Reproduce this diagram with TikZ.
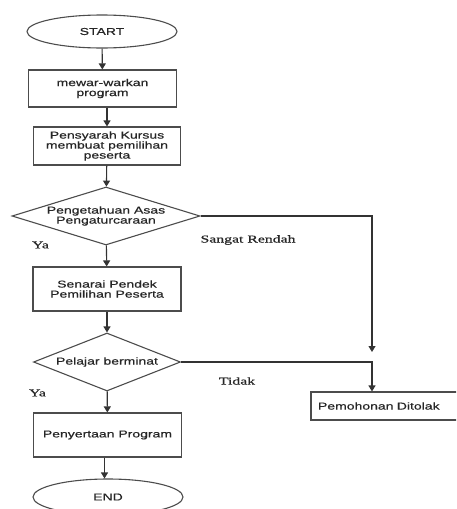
\documentclass[tikz,border=0pt]{standalone}
\usepackage{fontspec}
\setmainfont[FakeStretch=1.4,FakeBold=0.6]{Liberation Sans}
\newfontfamily\labelfont[FakeStretch=1.5,FakeBold=0.8]{Liberation Serif}
\usetikzlibrary{shapes.geometric,arrows.meta,positioning}

\begin{document}
\begin{tikzpicture}[x=1pt,y=-1pt,
    every node/.style={font=\fontsize{10}{10}\selectfont, text=black!85},
    terminal/.style={ellipse, draw=black!70, line width=1.1pt, minimum width=150pt, minimum height=33pt, inner sep=0pt},
    process/.style={rectangle, draw=black!70, line width=1.1pt, minimum width=148pt, inner sep=2pt, align=center},
    decision/.style={diamond, draw=black!70, line width=1.1pt, inner sep=0pt, align=center},
    flow/.style={-{Triangle[width=7pt,length=6pt]}, draw=black!80, line width=1.1pt},
    answer/.style={font=\labelfont\fontsize{10.5}{12}\selectfont}]

    \useasboundingbox (0,0) rectangle (456,509);
    \clip (0,0) rectangle (456,509);

    \node[terminal] (start) at (102,31.5) {START};
    \node[process, minimum height=37pt] (advert) at (102.5,88.5) {mewar-warkan\\program};
    \node[process, minimum width=147pt, minimum height=38pt] (select) at (107,146) {Pensyarah Kursus\\membuat pemilihan\\peserta};
    \node[decision, shape aspect=3.24, inner xsep=-2pt, minimum width=188pt, minimum height=58pt] (skill) at (106,216) {Pengetahuan Asas\\Pengaturcaraan};
    \node[process, minimum height=44pt] (shortlist) at (107,289) {Senarai Pendek\\Pemilihan Peserta};
    \node[decision, shape aspect=2.5, minimum width=147pt, minimum height=58pt] (interest) at (107,362) {Pelajar berminat};
    \node[process, minimum height=44pt] (join) at (107.5,435) {Penyertaan Program};
    \node[terminal, minimum height=36pt] (end) at (108,497) {END};
    \node[process, text width=134pt, inner xsep=6pt, minimum height=28pt, align=left] (reject) at (385,406) {Pemohonan Ditolak};
    \coordinate (low) at (372,352);

    \draw[flow] (start) -- (advert);
    \draw[flow] (advert.south -| select.north) -- (select.north);
    \draw[flow] (select) -- (skill);
    \draw[flow] (skill) -- (shortlist);
    \draw[flow] (shortlist) -- (interest);
    \draw[flow] (interest) -- (join);
    \draw[flow] ([xshift=-3pt]join.south) -- ([xshift=-3pt]join.south |- end.north);
    \draw[flow] (skill.east) -| (low);
    \draw[flow] (interest.east) -| (reject.north -| low);

    \node[answer] (yes1) at (40.5,245) {Ya};
    \node[answer] (lowtext) at (248,240) {Sangat Rendah};
    \node[answer] (no) at (237,381) {Tidak};
    \node[answer] (yes2) at (37.5,393) {Ya};
\end{tikzpicture}
\end{document}
